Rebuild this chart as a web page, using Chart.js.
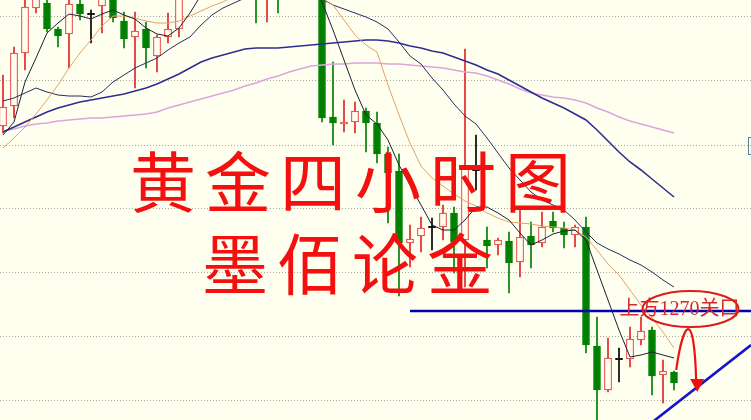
<!DOCTYPE html>
<html>
<head>
<meta charset="utf-8">
<script src="https://cdn.jsdelivr.net/npm/chart.js@4/dist/chart.umd.min.js"></script>
<style>
  html, body { margin: 0; padding: 0; background: #fffff0; }
  #wrap { width: 751px; height: 420px; position: relative; }
</style>
</head>
<body>
<div id="wrap"><canvas id="c"></canvas></div>
<script>
// 4h gold candles (price units)
const opens = [1288.5, 1290.5, 1295.8, 1300.3, 1300.8, 1298.2, 1297.7, 1300.7, 1299.7, 1300.5,
    1301.3, 1299.0, 1297.4, 1298.2, 1295.5, 1297.4, 1298.2, 1301.6, 1303.0, 1302.6,
    1304.8, 1303.9, 1305.0, 1304.2, 1302.0, 1303.8, 1302.0, 1303.5, 1304.6, 1303.1,
    1289.4, 1288.7, 1288.9, 1290.0, 1288.8, 1285.7, 1284.0, 1276.8, 1277.5, 1278.4,
    1278.4, 1279.8, 1277.1, 1284.1, 1277.1, 1276.6, 1277.0, 1274.9, 1277.5, 1276.8,
    1279.0, 1278.3, 1277.6, 1278.4, 1266.5, 1262.1, 1265.2, 1265.2, 1267.1, 1268.1,
    1263.6, 1263.9];
const highs = [1293.6, 1296.4, 1301.4, 1302.1, 1301.4, 1298.4, 1301.3, 1301.3, 1300.1, 1301.9,
    1301.6, 1299.9, 1299.9, 1298.9, 1297.6, 1299.8, 1302.3, 1303.6, 1304.5, 1305.2,
    1306.0, 1305.5, 1306.4, 1305.0, 1304.6, 1304.4, 1304.0, 1305.2, 1305.3, 1303.6,
    1294.9, 1291.1, 1290.9, 1290.3, 1289.9, 1286.4, 1285.7, 1278.6, 1279.4, 1279.3,
    1280.6, 1280.4, 1296.2, 1287.6, 1278.4, 1277.3, 1277.9, 1280.5, 1278.9, 1279.9,
    1279.9, 1278.9, 1278.6, 1279.4, 1269.4, 1267.3, 1266.3, 1268.4, 1269.4, 1268.4,
    1265.1, 1264.0];
const lows = [1287.8, 1289.3, 1294.1, 1299.8, 1297.9, 1296.4, 1294.3, 1299.1, 1296.8, 1297.8,
    1298.9, 1296.3, 1292.3, 1294.3, 1293.9, 1296.8, 1297.4, 1301.3, 1302.2, 1302.0,
    1303.4, 1302.8, 1303.5, 1298.8, 1298.9, 1299.8, 1301.4, 1302.6, 1302.5, 1288.9,
    1286.6, 1287.9, 1287.8, 1285.9, 1284.8, 1278.8, 1271.5, 1274.4, 1275.9, 1276.1,
    1277.1, 1273.8, 1272.4, 1282.1, 1274.3, 1275.6, 1271.8, 1273.4, 1274.3, 1276.4,
    1277.9, 1276.3, 1276.4, 1265.8, 1258.6, 1261.9, 1262.9, 1264.4, 1266.6, 1261.6,
    1260.8, 1262.1];
const closes = [1290.4, 1295.8, 1300.4, 1301.7, 1298.2, 1297.5, 1300.7, 1299.7, 1299.7, 1301.5,
    1299.3, 1297.2, 1298.0, 1296.3, 1297.4, 1298.2, 1301.6, 1303.0, 1302.6, 1304.8,
    1303.9, 1305.0, 1304.2, 1302.5, 1303.8, 1302.0, 1303.5, 1304.6, 1303.0, 1289.3,
    1288.8, 1288.9, 1290.0, 1288.8, 1285.7, 1283.8, 1276.8, 1277.2, 1278.3, 1278.4,
    1279.8, 1276.9, 1284.3, 1284.1, 1276.5, 1277.1, 1274.8, 1277.4, 1276.6, 1278.4,
    1278.3, 1277.6, 1278.4, 1266.6, 1262.1, 1265.3, 1265.2, 1267.2, 1268.0, 1263.5,
    1264.0, 1262.8];

// moving average lines as drawn on the picture
const ma5 = [1287.6, 1288.9, 1292.9, 1295.3, 1297.8, 1298.8, 1299.7, 1299.5, 1299.2, 1299.7,
    1300.1, 1299.6, 1299.2, 1298.3, 1297.7, 1297.5, 1298.3, 1299.8, 1301.6, 1303.1,
    1304.1, 1304.1, 1304.1, 1304.1, 1304.1, 1304.1, 1304.1, 1303.6, 1303.1, 1300.9,
    1298.1, 1295.1, 1292.1, 1289.6, 1288.7, 1287.1, 1284.6, 1282.6, 1280.6, 1278.6,
    1278.1, 1278.1, 1279.1, 1280.4, 1280.4, 1279.8, 1279.1, 1277.8, 1276.6, 1277.1,
    1277.7, 1278.0, 1278.1, 1277.1, 1274.1, 1271.1, 1268.1, 1265.4, 1265.6, 1265.9,
    1265.6, 1265.3];
const ma10 = [1286.3, 1287.3, 1288.4, 1289.7, 1291.1, 1292.6, 1294.3, 1295.8, 1297.1, 1298.5,
    1299.5, 1299.5, 1299.3, 1299.0, 1298.8, 1298.8, 1299.0, 1299.5, 1300.0, 1300.5,
    1300.9, 1301.5, 1301.9, 1302.1, 1302.1, 1302.1, 1301.9, 1301.7, 1301.5, 1301.3,
    1300.6, 1299.1, 1297.6, 1296.6, 1295.9, 1292.6, 1289.6, 1286.8, 1284.5, 1283.3,
    1282.5, 1281.7, 1281.0, 1280.5, 1279.8, 1279.3, 1278.9, 1278.8, 1278.7, 1278.5,
    1278.4, 1278.3, 1278.1, 1277.4, 1276.1, 1274.7, 1273.6, 1272.1, 1270.6, 1269.3,
    1267.9, 1266.3];
const ma20 = [1291.0, 1291.3, 1291.8, 1292.3, 1291.9, 1291.6, 1291.5, 1291.5, 1291.4, 1291.9,
    1292.9, 1293.6, 1294.3, 1294.8, 1295.3, 1296.1, 1296.8, 1297.4, 1298.6, 1299.6,
    1300.3, 1300.8, 1301.3, 1301.5, 1301.6, 1301.6, 1301.6, 1301.5, 1301.4, 1301.2,
    1300.6, 1300.2, 1299.8, 1299.4, 1298.9, 1298.2, 1296.9, 1295.5, 1294.7, 1293.3,
    1292.1, 1290.7, 1289.5, 1288.7, 1287.3, 1285.8, 1284.3, 1283.1, 1281.9, 1281.1,
    1280.6, 1280.1, 1279.1, 1277.9, 1276.8, 1276.2, 1275.7, 1275.1, 1274.6, 1273.9,
    1273.1, 1272.4];
const ma30 = [1287.9, 1288.4, 1288.9, 1289.4, 1289.9, 1290.3, 1290.6, 1290.9, 1291.1, 1291.3,
    1291.5, 1291.7, 1292.0, 1292.3, 1292.7, 1293.2, 1293.7, 1294.3, 1294.9, 1295.3,
    1295.6, 1295.9, 1296.2, 1296.3, 1296.3, 1296.3, 1296.4, 1296.5, 1296.6, 1296.7,
    1296.8, 1296.9, 1297.0, 1297.1, 1297.1, 1297.0, 1296.8, 1296.5, 1296.3, 1296.0,
    1295.8, 1295.4, 1295.0, 1294.6, 1294.1, 1293.7, 1293.1, 1292.5, 1291.9, 1291.3,
    1290.8, 1290.3, 1289.7, 1289.1, 1288.1, 1287.0, 1285.9, 1284.9, 1284.1, 1283.2,
    1282.3, 1281.4];
const ma60 = [1288.0, 1288.2, 1288.5, 1288.7, 1288.8, 1289.0, 1289.1, 1289.2, 1289.3, 1289.3,
    1289.4, 1289.5, 1289.6, 1289.7, 1289.9, 1290.3, 1290.6, 1290.9, 1291.2, 1291.5,
    1291.8, 1292.1, 1292.5, 1292.8, 1293.2, 1293.5, 1293.9, 1294.2, 1294.5, 1294.6,
    1294.7, 1294.7, 1294.8, 1294.8, 1294.8, 1294.7, 1294.7, 1294.6, 1294.5, 1294.4,
    1294.3, 1294.1, 1293.9, 1293.8, 1293.5, 1293.1, 1292.7, 1292.2, 1291.8, 1291.6,
    1291.4, 1291.3, 1291.1, 1290.8, 1290.3, 1289.9, 1289.4, 1289.0, 1288.7, 1288.4,
    1288.1, 1287.8];

const gridLevels = [1299.4, 1293.0, 1286.6, 1280.2, 1273.8, 1267.4, 1261.0];
const keyLevel = 1270;
const keyFrom = 37, keyTo = 68;
const trendX = [58, 68];
const trendY = [1258.0, 1266.6];

const BG = '#fffff0';
const UP = '#e02626';
const DOWN = '#008000';

const idx = opens.map((_, i) => i);
const colorOf = (i) => closes[i] > opens[i] ? UP : (closes[i] < opens[i] ? DOWN : '#000000');

const wickData = idx.map((i) => ({ x: i, y: [lows[i], highs[i]] }));
const bodyData = idx.map((i) => {
    const o = opens[i], c = closes[i];
    if (o === c) return { x: i, y: [o - 0.06, o + 0.06] };
    return { x: i, y: [Math.min(o, c), Math.max(o, c)] };
});
const pts = (arr) => arr.map((v, i) => ({ x: i, y: v }));

function maLine(data, color, width) {
    return {
        type: 'line',
        data: pts(data),
        borderColor: color,
        borderWidth: width,
        pointRadius: 0,
        tension: 0,
        order: 1
    };
}

const notes = {
    id: 'notes',
    beforeDraw(chart) {
        const ctx = chart.ctx;
        ctx.save();
        ctx.fillStyle = BG;
        ctx.fillRect(0, 0, chart.width, chart.height);
        ctx.restore();
    },
    afterDraw(chart) {
        const ctx = chart.ctx;
        const xs = chart.scales.x, ys = chart.scales.y;
        ctx.save();

        // big watermark title
        ctx.fillStyle = '#f51010';
        ctx.textAlign = 'center';
        ctx.textBaseline = 'middle';
        ctx.font = '66px "Noto Sans CJK SC"';
        Array.from('黄金四小时图').forEach((ch, k) => ctx.fillText(ch, 163 + k * 75, 182));
        Array.from('墨佰论金').forEach((ch, k) => ctx.fillText(ch, 235 + k * 75, 264));

        // 1270 label with ellipse
        const ly = ys.getPixelForValue(keyLevel);
        const lx = xs.getPixelForValue(61.5);
        ctx.fillStyle = '#d42a2a';
        ctx.font = '20px "Liberation Serif", "Noto Sans CJK SC"';
        ctx.fillText('上方1270关口', lx, ly - 1);

        ctx.strokeStyle = '#dd1c1c';
        ctx.lineWidth = 2;
        ctx.beginPath();
        ctx.ellipse(lx + 11, ly - 2, 48, 18, 0, 0, Math.PI * 2);
        ctx.stroke();

        // curved arrow down to the trend line
        const ax = xs.getPixelForValue(61.2), ay = ys.getPixelForValue(1264.1);
        ctx.lineWidth = 2.2;
        ctx.strokeStyle = '#ee1010';
        ctx.beginPath();
        ctx.moveTo(ax, ay);
        ctx.bezierCurveTo(ax + 7, ay - 49, ax + 18, ay - 64, ax + 20, ay + 12);
        ctx.stroke();
        ctx.fillStyle = '#ee1010';
        ctx.beginPath();
        ctx.moveTo(ax + 21, ay + 22);
        ctx.lineTo(ax + 14, ay + 9);
        ctx.lineTo(ax + 28, ay + 9);
        ctx.closePath();
        ctx.fill();

        // clipped label box at the right edge
        ctx.strokeStyle = '#5f7f9f';
        ctx.lineWidth = 1;
        ctx.strokeRect(748.5, 137.5, 10, 17);
        ctx.restore();
    }
};

new Chart(document.getElementById('c').getContext('2d'), {
    type: 'bar',
    data: {
        datasets: [
            {
                type: 'line',
                data: [{ x: keyFrom, y: keyLevel }, { x: keyTo, y: keyLevel }],
                borderColor: '#0000b4',
                borderWidth: 2.6,
                pointRadius: 0,
                order: 0
            },
            {
                type: 'line',
                data: [{ x: trendX[0], y: trendY[0] }, { x: trendX[1], y: trendY[1] }],
                borderColor: '#1414c8',
                borderWidth: 2.6,
                pointRadius: 0,
                order: 0
            },
            maLine(ma5, '#1e1e38', 1),
            maLine(ma10, '#e3a264', 1),
            maLine(ma20, '#2c2c62', 1),
            maLine(ma30, '#2e2e92', 1.6),
            maLine(ma60, '#dca6dc', 1.6),
            {
                data: bodyData,
                backgroundColor: idx.map((i) => closes[i] > opens[i] ? BG : colorOf(i)),
                borderColor: idx.map(colorOf),
                borderWidth: 1,
                borderSkipped: false,
                barThickness: 7,
                grouped: false,
                order: 2
            },
            {
                data: wickData,
                backgroundColor: idx.map(colorOf),
                borderWidth: 0,
                barThickness: 1,
                grouped: false,
                order: 3
            }
        ]
    },
    options: {
        responsive: true,
        maintainAspectRatio: false,
        animation: false,
        layout: { padding: 0 },
        plugins: {
            legend: { display: false },
            tooltip: { enabled: false }
        },
        scales: {
            x: {
                type: 'linear',
                display: false,
                offset: false,
                grid: { offset: false },
                min: -3 / 11,
                max: 68
            },
            y: {
                min: 1259.1,
                max: 1301.1,
                afterBuildTicks: (scale) => {
                    scale.ticks = gridLevels.map((v) => ({ value: v }));
                },
                afterFit: (scale) => {
                    scale.width = 0;
                },
                ticks: { display: false },
                border: { display: false, dash: [1, 2] },
                grid: {
                    color: '#a9a9a0',
                    drawTicks: false
                }
            }
        }
    },
    plugins: [notes]
});
</script>
</body>
</html>
